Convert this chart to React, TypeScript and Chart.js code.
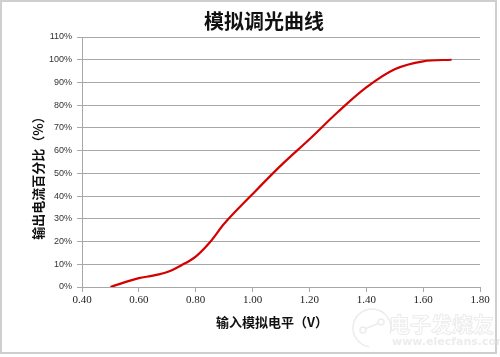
import React, { useEffect, useRef } from "react";
import { Chart, registerables } from "chart.js";

Chart.register(...registerables);

// ---- data ----
const voltages = [0.5, 0.6, 0.65, 0.7, 0.75, 0.8, 0.85, 0.9, 1.0, 1.1, 1.2, 1.3, 1.4, 1.5, 1.6, 1.7];
const currentPct = [0, 3.9, 5.0, 6.6, 9.6, 13.4, 19.7, 27.8, 40.9, 53.5, 65.0, 77.0, 87.8, 95.8, 99.3, 100];
const xTicks = [0.4, 0.6, 0.8, 1.0, 1.2, 1.4, 1.6, 1.8];
const yTicks = [0, 10, 20, 30, 40, 50, 60, 70, 80, 90, 100, 110];
const chartTitle = "模拟调光曲线";
const xTitle = "输入模拟电平（V）";
const yTitle = "输出电流百分比（%）";
const watermarkCn = "电子发烧友";
const watermarkUrl = "www.elecfans.com";

const W = 500;
const H = 357;

const decorPlugin = {
  id: "decor",
  beforeDraw(chart: any) {
    const ctx = chart.ctx;
    ctx.save();
    ctx.fillStyle = "#ffffff";
    ctx.fillRect(0, 0, W, H);
    ctx.strokeStyle = "#cfcfcf";
    ctx.lineWidth = 2;
    ctx.strokeRect(1, 1, 495, 352);
    // watermark
    ctx.strokeStyle = "#ececec";
    ctx.lineWidth = 1.5;
    ctx.beginPath();
    ctx.arc(372, 328, 19, Math.PI * 0.55, Math.PI * 2.1);
    ctx.stroke();
    ctx.beginPath();
    ctx.arc(363, 330, 3, 0, Math.PI * 2);
    ctx.stroke();
    ctx.beginPath();
    ctx.arc(381, 322, 3, 0, Math.PI * 2);
    ctx.stroke();
    ctx.beginPath();
    ctx.moveTo(365, 329);
    ctx.lineTo(379, 323);
    ctx.stroke();
    ctx.font = "bold 21px 'Noto Sans CJK SC'";
    ctx.textAlign = "left";
    ctx.textBaseline = "middle";
    ctx.lineWidth = 1;
    ctx.strokeText(watermarkCn, 389, 324);
    ctx.fillStyle = "#ececec";
    ctx.font = "bold 11px 'DejaVu Sans'";
    ctx.fillText(watermarkUrl, 392, 342);
    ctx.restore();
  },
  afterDraw(chart: any) {
    const ctx = chart.ctx;
    ctx.save();
    ctx.fillStyle = "#111111";
    ctx.textAlign = "center";
    ctx.textBaseline = "middle";
    ctx.font = "bold 20px 'Noto Sans CJK SC'";
    ctx.fillText(chartTitle, 264, 21);
    ctx.font = "bold 13px 'Noto Sans CJK SC'";
    ctx.fillText(xTitle, 272, 322);
    ctx.translate(38, 175);
    ctx.rotate(-Math.PI / 2);
    ctx.fillText(yTitle, 0, 0);
    ctx.restore();
  },
};

export default function App() {
  const ref = useRef<HTMLCanvasElement | null>(null);
  useEffect(() => {
    document.body.style.margin = "0";
    const canvas = ref.current;
    if (!canvas) return;
    const gridColor = "#a8a8a8";
    const chart = new Chart(canvas, {
      type: "line",
      data: {
        datasets: [
          {
            data: voltages.map((v, i) => ({ x: v, y: currentPct[i] })),
            borderColor: "#d40000",
            borderWidth: 2.2,
            pointRadius: 0,
            fill: false,
            cubicInterpolationMode: "monotone",
          },
        ],
      },
      options: {
        animation: false,
        responsive: false,
        devicePixelRatio: 1,
        layout: { padding: { top: 37, right: 20, bottom: 0, left: 0 } },
        plugins: {
          legend: { display: false },
          title: { display: false },
          tooltip: { enabled: false },
        },
        scales: {
          x: {
            type: "linear",
            min: 0.4,
            max: 1.8,
            afterBuildTicks: (scale: any) => {
              scale.ticks = xTicks.map((v) => ({ value: v }));
            },
            afterFit: (scale: any) => {
              scale.height = 70;
            },
            grid: {
              drawOnChartArea: false,
              drawTicks: true,
              tickLength: 5,
              color: gridColor,
            },
            border: { display: true, color: gridColor },
            ticks: {
              autoSkip: false,
              maxRotation: 0,
              padding: 2,
              color: "#222222",
              font: { family: "'Liberation Serif'", size: 11 },
              callback: (v: any) => Number(v).toFixed(2),
            },
          },
          y: {
            type: "linear",
            min: 0,
            max: 110,
            afterBuildTicks: (scale: any) => {
              scale.ticks = yTicks.map((v) => ({ value: v }));
            },
            afterFit: (scale: any) => {
              scale.width = 82;
            },
            grid: {
              drawOnChartArea: true,
              drawTicks: true,
              tickLength: 5,
              color: gridColor,
            },
            border: { display: true, color: gridColor },
            ticks: {
              autoSkip: false,
              padding: 5,
              color: "#333333",
              font: { family: "'Liberation Sans'", size: 9 },
              callback: (v: any) => `${v}%`,
            },
          },
        },
      },
      plugins: [decorPlugin],
    } as any);
    return () => chart.destroy();
  }, []);
  return (
    <div style={{ position: "absolute", left: 0, top: 0, width: W, height: H }}>
      <canvas ref={ref} width={W} height={H} style={{ width: W, height: H, display: "block" }} />
    </div>
  );
}
